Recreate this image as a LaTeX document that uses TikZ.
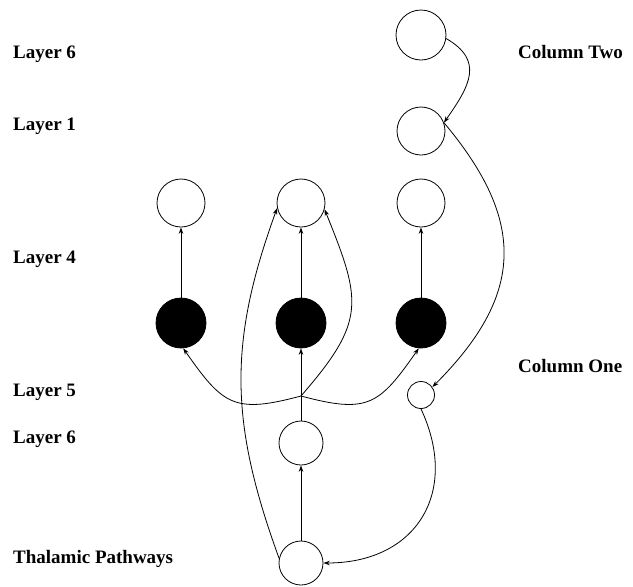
\documentclass[tikz,border=0pt]{standalone}
\usepackage{fontspec}
\setmainfont{Liberation Serif}
\usetikzlibrary{arrows.meta}
\begin{document}
\begin{tikzpicture}[x=1pt,y=-1pt,
  nd/.style={draw, circle, line width=0.8pt, minimum size=48pt, inner sep=0pt},
  bk/.style={nd, fill=black, minimum size=50pt},
  sm/.style={nd, minimum size=27pt},
  lab/.style={anchor=base west, font=\fontsize{19}{19}\selectfont\bfseries, inner sep=0pt},
  ar/.style={line width=0.8pt, -{Stealth[length=6.5pt,width=4.5pt]}}]
\useasboundingbox (0,0) rectangle (633,587);
% nodes
\node[nd, minimum size=50pt] (c2a) at (421,35) {};
\node[nd] (c2b) at (421,131) {};
\node[nd] (tL) at (181,203) {};
\node[nd] (tM) at (301,203) {};
\node[nd] (tR) at (421,203) {};
\node[bk] (bL) at (181,323) {};
\node[bk] (bM) at (301,323) {};
\node[bk] (bR) at (421,323) {};
\node[sm] (s) at (421,395) {};
\node[nd, minimum size=44pt] (l6) at (301,443) {};
\node[nd, minimum size=44pt] (th) at (301,563) {};
\coordinate (J) at (301,396);
% labels
\node[lab] (la) at (13,58) {Layer 6};
\node[lab] (lb) at (13,130) {Layer 1};
\node[lab] (lc) at (13,263) {Layer 4};
\node[lab] (ld) at (13,396) {Layer 5};
\node[lab] (le) at (13,443) {Layer 6};
\node[lab] (lf) at (13,563) {Thalamic Pathways};
\node[lab] (lg) at (518,58) {Column Two};
\node[lab] (lh) at (518,372) {Column One};
% edges
\draw[ar] (c2a.-8) to[out=-30, in=55, looseness=1.35] (c2b.20);
\draw[ar] (c2b.20) to[out=-50, in=45, looseness=1.25] (s.35);
\draw[ar] (s.-90) to[out=-65, in=0, looseness=1.3] (th.east);
\draw[ar] (th) -- (l6);
\draw[ar] (l6) -- (bM);
\draw[ar] (bL) -- (tL);
\draw[ar] (bM) -- (tM);
\draw[ar] (bR) -- (tR);
\draw[ar] (J) to[out=195, in=-55, looseness=1.4] (bL.-85);
\draw[ar] (J) to[out=-15, in=-125, looseness=1.4] (bR.-95);
\draw[ar] (J) to[out=49, in=-68, looseness=1.35] (tM.-15);
\draw[ar] (th.168) to[out=110, in=-110, looseness=1.05] (tM.192);
\end{tikzpicture}
\end{document}
